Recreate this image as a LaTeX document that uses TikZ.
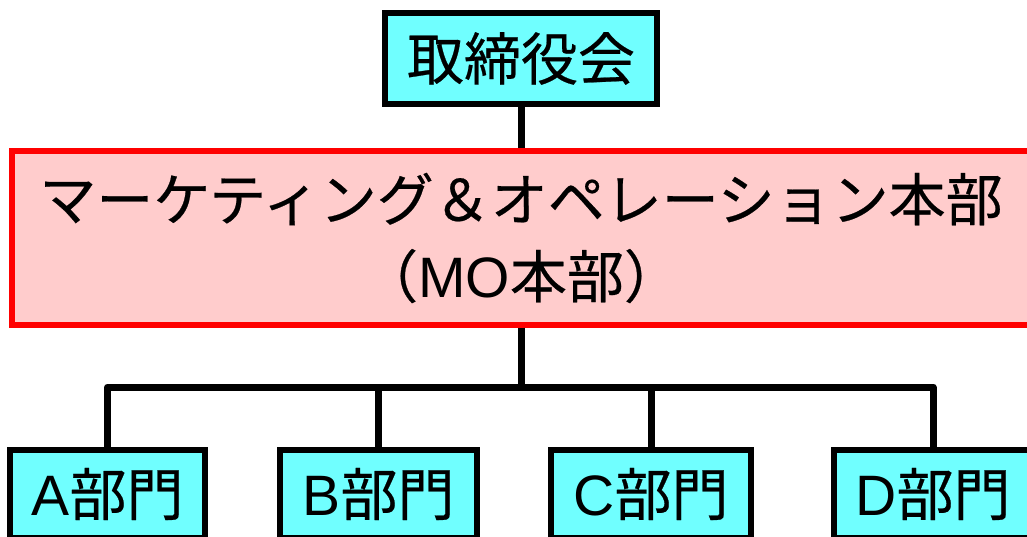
\documentclass[tikz,border=0pt]{standalone}
\usepackage{fontspec}
\newfontfamily\jp[FakeBold=0.4]{Noto Sans CJK JP}
\newfontfamily\lat{Liberation Sans}
\definecolor{boxcyan}{RGB}{112,255,255}
\definecolor{boxpink}{RGB}{255,204,204}
\definecolor{boxred}{RGB}{255,0,0}
\begin{document}
\begin{tikzpicture}[x=1pt,y=-1pt,
  cyanbox/.style={draw=black,fill=boxcyan,line width=6.5pt,inner sep=0pt,
    font=\jp\fontsize{57}{77}\selectfont},
  mobox/.style={draw=boxred,fill=boxpink,line width=6pt,inner sep=0pt,align=center,
    font=\jp\fontsize{57}{77}\selectfont},
  conn/.style={line width=7pt,line join=round}]
\useasboundingbox (0,0) rectangle (1027,537);
\clip (0,0) rectangle (1027,537);
\node[cyanbox,minimum width=272pt,minimum height=91pt] (top) at (521,58.5) {取締役会};
\node[mobox,minimum width=1018pt,minimum height=173pt] (mo) at (521,238) {マーケティング＆オペレーション本部\\（{\lat MO}本部）};
\node[cyanbox,minimum width=195pt,minimum height=88pt] (A) at (107.5,494) {{\lat A}部門};
\node[cyanbox,minimum width=197pt,minimum height=88pt] (B) at (378.5,494) {{\lat B}部門};
\node[cyanbox,minimum width=200pt,minimum height=88pt] (C) at (651,494) {{\lat C}部門};
\node[cyanbox,minimum width=198pt,minimum height=88pt] (D) at (933,494) {{\lat D}部門};
\coordinate (bus) at (522,387);
\draw[conn] (top.south) -- (mo.north);
\draw[conn] (mo.south) -- (mo.south |- bus);
\draw[conn] (A.north) |- (D.north |- bus) -- (D.north);
\draw[conn] (B.north) -- (B.north |- bus);
\draw[conn] (C.north) -- (C.north |- bus);
\end{tikzpicture}
\end{document}
